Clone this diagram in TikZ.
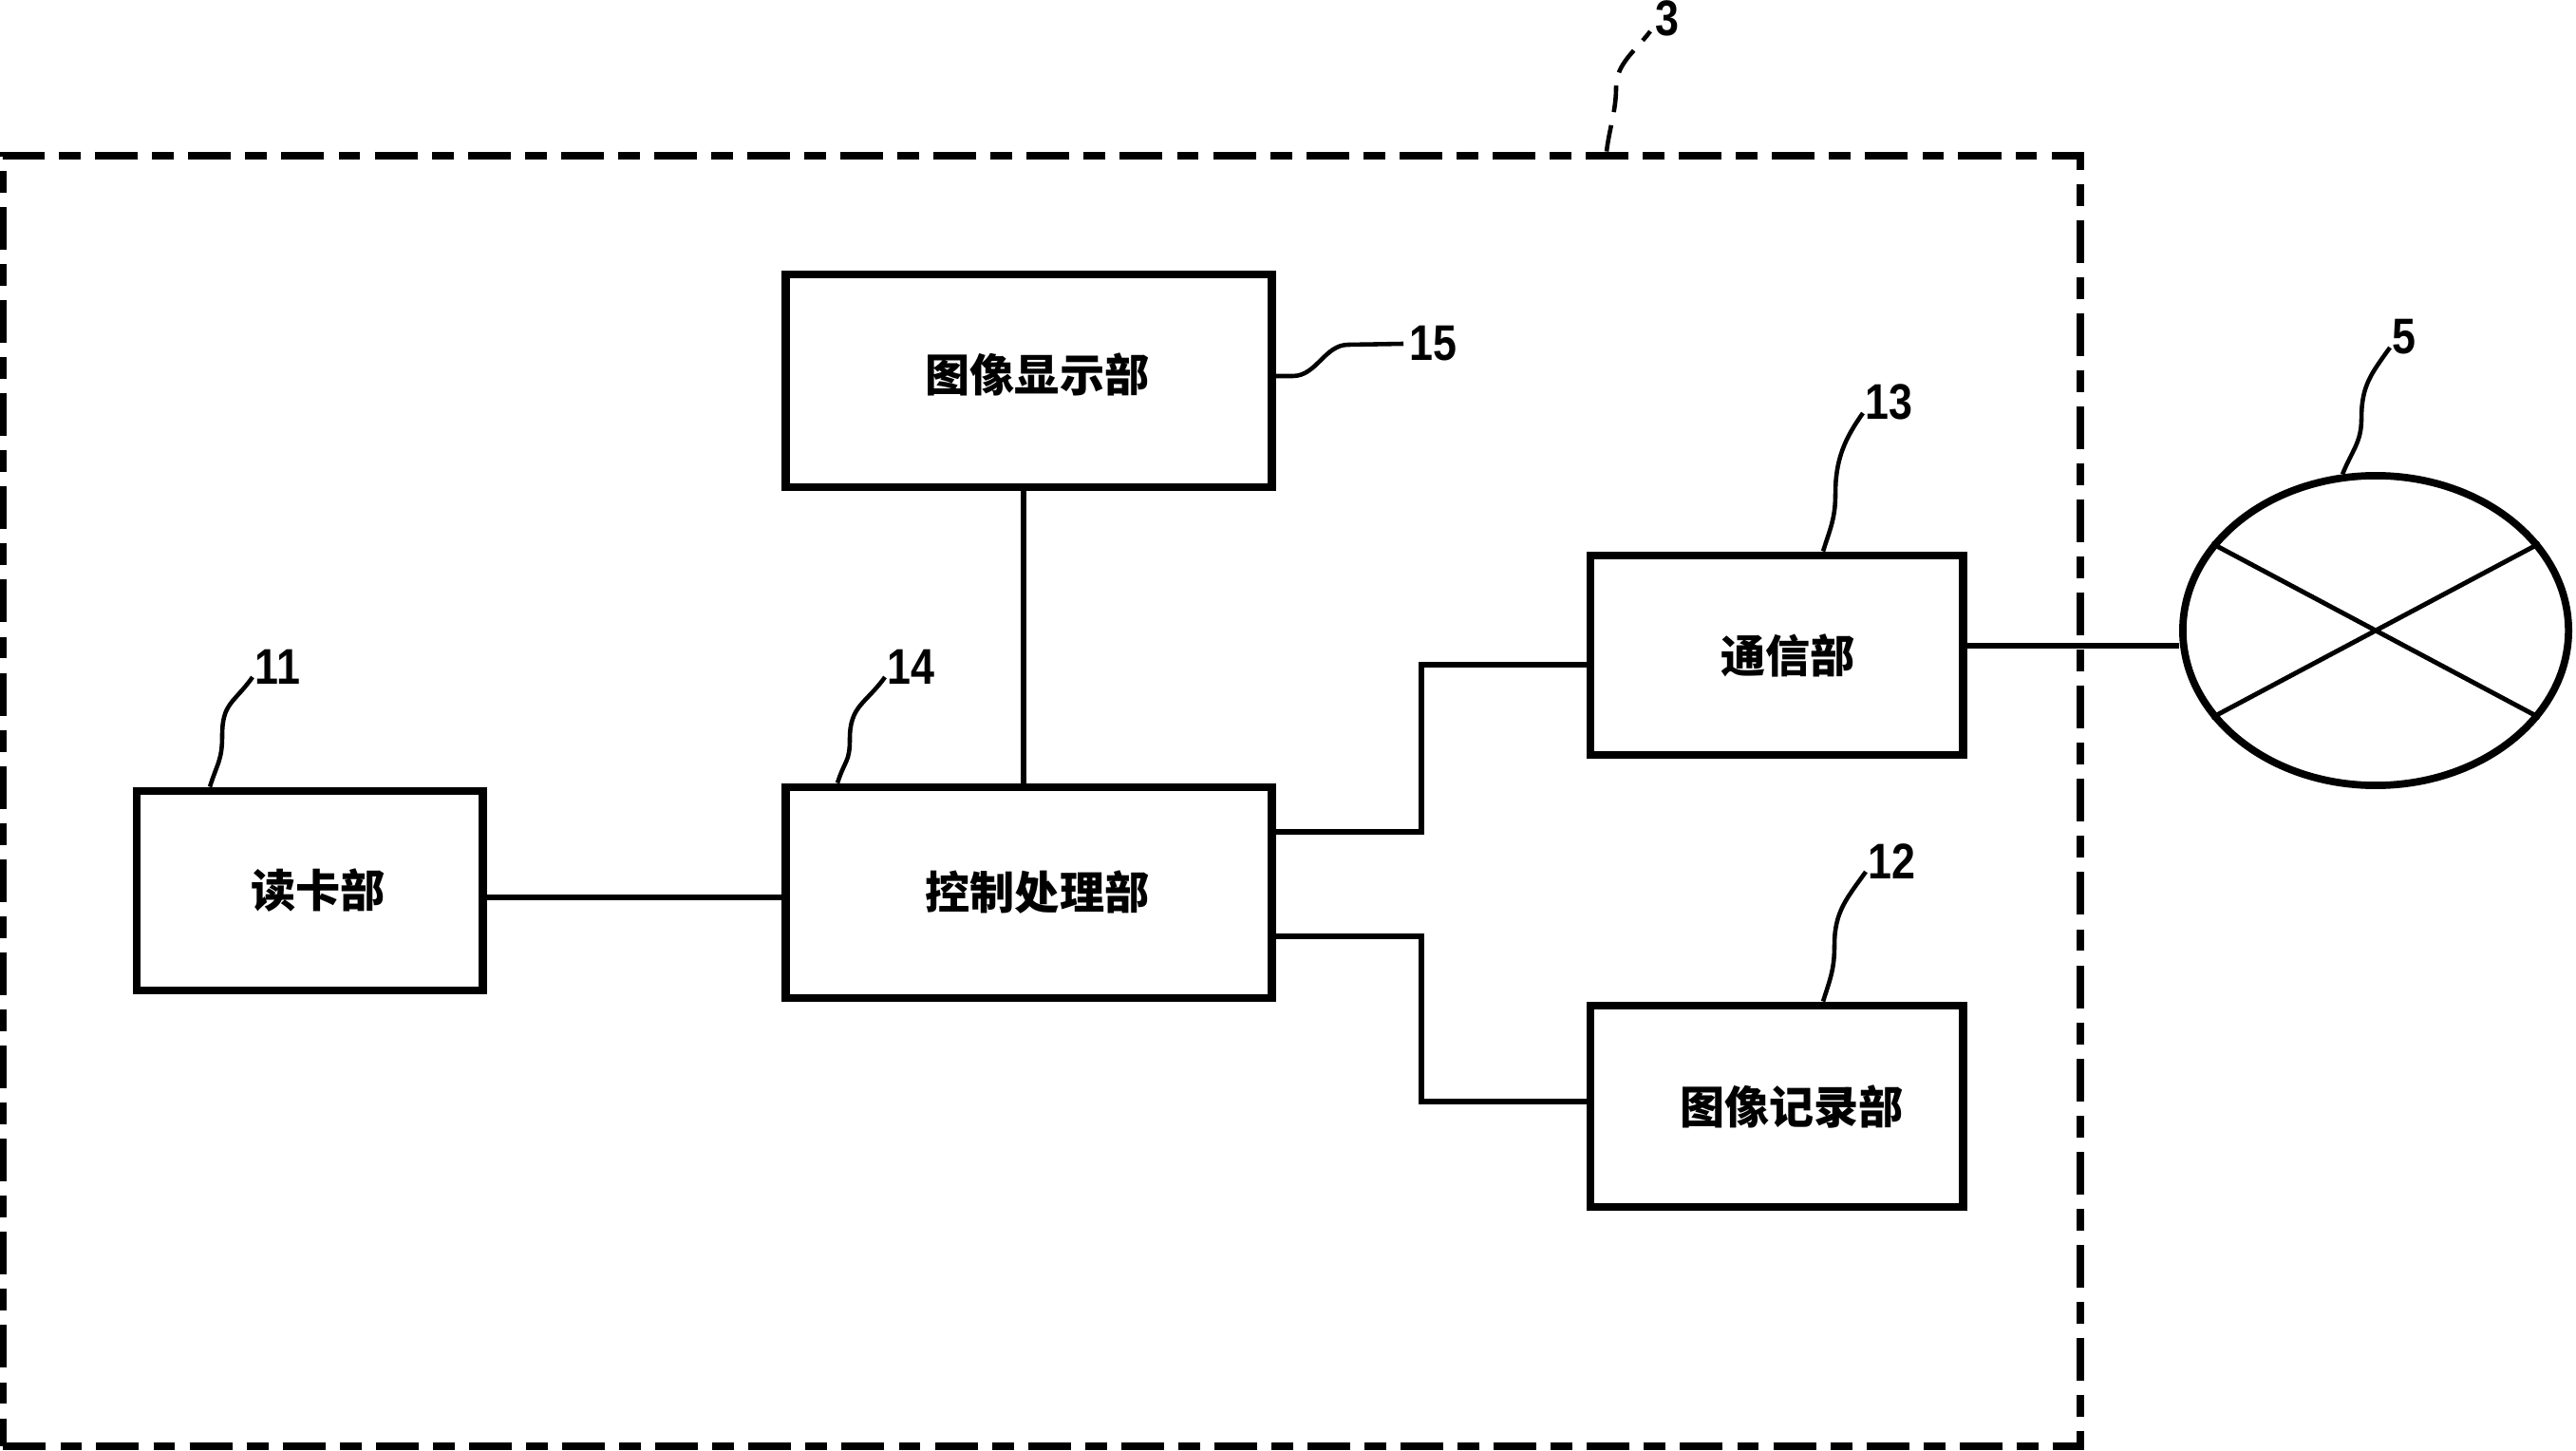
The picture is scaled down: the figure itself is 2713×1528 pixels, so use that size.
\documentclass[tikz,border=0pt]{standalone}
\usepackage{fontspec}
\usepackage{graphicx}
\newfontfamily\cjkfam{Noto Sans CJK SC}
\newfontfamily\numfam{Liberation Sans}
\usetikzlibrary{shapes.geometric}
\newcommand\boxfont{\cjkfam\bfseries\fontsize{13.4pt}{16pt}\selectfont}
\newcommand\numfont{\numfam\bfseries\fontsize{15pt}{18pt}\selectfont}
\newcommand\nm[1]{\scalebox{0.85}[1]{#1}}
\begin{document}
\begin{tikzpicture}[x=0.01cm,y=-0.01cm,
  box/.style={draw, line width=2.5pt, inner sep=0pt, font=\boxfont},
  frame/.style={draw, line width=2.3pt, inner sep=0pt, dash pattern=on 12.8pt off 4.3pt on 6.5pt off 4.3pt},
  conn/.style={line width=1.9pt},
  leader/.style={line width=1.3pt},
  xline/.style={line width=1.4pt},
  num/.style={inner sep=0pt, font=\numfont}]
\useasboundingbox (0,0) rectangle (2713,1528);
% outer dashed frame
\node[frame, minimum width=21.86cm, minimum height=13.59cm] (frame) at (1097,843.5) {};
% boxes
\node[box, minimum width=5.11cm, minimum height=2.24cm] (disp) at (1083.5,401) {\hspace*{0.18cm}\raisebox{0.18cm}{图像显示部}};
\node[box, minimum width=5.11cm, minimum height=2.22cm] (ctrl) at (1083.5,940) {\hspace*{0.18cm}控制处理部};
\node[box, minimum width=3.64cm, minimum height=2.10cm] (read) at (326,938) {\hspace*{0.18cm}读卡部};
\node[box, minimum width=3.92cm, minimum height=2.10cm] (comm) at (1871,690) {\hspace*{0.24cm}通信部};
\node[box, minimum width=3.92cm, minimum height=2.12cm] (rec) at (1871,1165) {\hspace*{0.32cm}图像记录部};
\node[draw, ellipse, line width=2.2pt, inner sep=0pt, minimum width=4.06cm, minimum height=3.26cm] (net) at (2502,664) {};
% connectors
\draw[conn] (read.east |- 0,945) -- (ctrl.west |- 0,945);
\draw[conn] (disp.south -| 1078,0) -- (ctrl.north -| 1078,0);
\draw[conn] (ctrl.east |- 0,876) -| (1497,700) -- (comm.west |- 0,700);
\draw[conn] (ctrl.east |- 0,986) -| (1497,1160) -- (rec.west |- 0,1160);
\draw[conn] (comm.east |- 0,680) -- (net.west |- 0,680);
\draw[xline] (net.152) -- (net.-28);
\draw[xline] (net.28) -- (net.-152);
% labels
\node[num, anchor=south west] (l3) at (1743,39) {\nm{3}};
\node[num, anchor=west] (l15) at (1484,362) {\nm{15}};
\node[num, anchor=south west] (l11) at (268,721) {\nm{11}};
\node[num, anchor=south west] (l14) at (934,721) {\nm{14}};
\node[num, anchor=south west] (l13) at (1964,443) {\nm{13}};
\node[num, anchor=south west] (l12) at (1967,926) {\nm{12}};
\node[num, anchor=south west] (l5) at (2519,374) {\nm{5}};
% leaders
\draw[leader, dash pattern=on 8pt off 4pt] (frame.north -| 1692,0) .. controls +(3,-25) and +(0,25) .. (1702,92) .. controls +(0,-25) and +(-15,20) .. ([shift={(-5,-6)}]l3.south west);
\draw[leader] ([yshift=0.05cm]disp.east) -- +(18,0) .. controls +(25,0) and +(-25,0) .. (1420,363) -- ([xshift=-0.06cm]l15.west);
\draw[leader] (read.north -| 221,0) .. controls +(8,-25) and +(0,25) .. (234,775) .. controls +(0,-35) and +(-20,28) .. ([shift={(-2,-8)}]l11.south west);
\draw[leader] (ctrl.north -| 882,0) .. controls +(8,-25) and +(0,25) .. (895,778) .. controls +(0,-35) and +(-20,28) .. ([shift={(-2,-8)}]l14.south west);
\draw[leader] (comm.north -| 1920,0) .. controls +(8,-25) and +(0,25) .. (1933,520) .. controls +(0,-35) and +(-20,28) .. ([shift={(-2,-8)}]l13.south west);
\draw[leader] (rec.north -| 1920,0) .. controls +(8,-25) and +(0,25) .. (1932,995) .. controls +(0,-35) and +(-20,28) .. ([shift={(-2,-8)}]l12.south west);
\draw[leader] (net.102) .. controls +(10,-25) and +(0,25) .. (2487,441) .. controls +(0,-35) and +(-20,28) .. ([shift={(-2,-8)}]l5.south west);
\end{tikzpicture}
\end{document}
